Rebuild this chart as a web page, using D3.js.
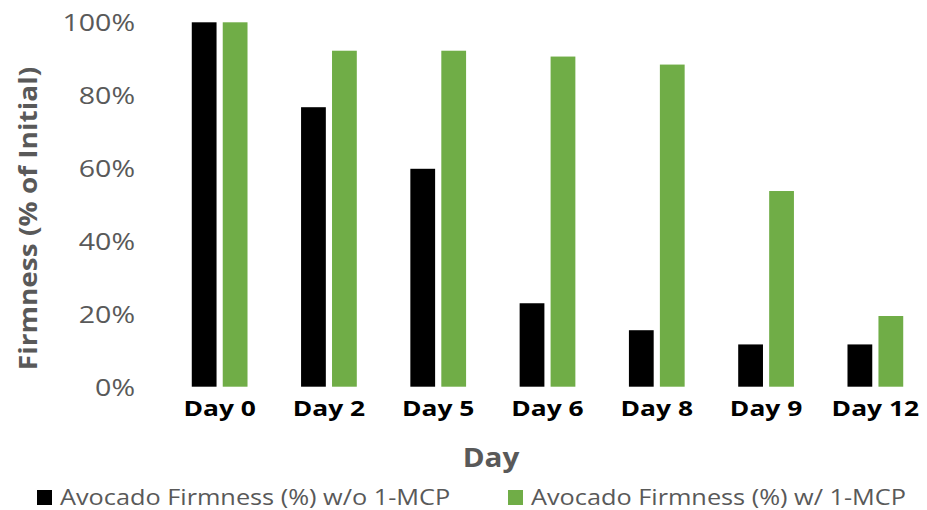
<!DOCTYPE html>
<html><head><meta charset="utf-8">
<script src="https://cdn.jsdelivr.net/npm/d3@7"></script>
<style>body{margin:0;background:#fff}svg{display:block}text{font-family:"Open Sans",sans-serif}</style>
</head><body><svg id="c" width="927" height="510"></svg>
<script>
const categories = ["Day 0","Day 2","Day 5","Day 6","Day 8","Day 9","Day 12"];
const seriesNames = ["Avocado Firmness (%) w/o 1-MCP","Avocado Firmness (%) w/ 1-MCP"];
const without1MCP = [100, 76.7, 59.8, 22.9, 15.5, 11.6, 11.6];
const with1MCP = [100, 92.2, 92.2, 90.6, 88.4, 53.7, 19.4];
const yTicks = [0, 20, 40, 60, 80, 100];
const colors = ["#000000", "#70AD47"];

const svg = d3.select("#c");
const x = d3.scaleBand().domain(categories).range([165, 930]).paddingInner(0).paddingOuter(0);
const y = d3.scaleLinear().domain([0, 100]).range([386.7, 22.3]);
const sub = d3.scaleBand().domain([0,1]).range([x.bandwidth()*0.245, x.bandwidth()*0.755]).paddingInner(0.2);

const series = [without1MCP, with1MCP];
series.forEach((vals, si) => {
  svg.append("g").selectAll("rect").data(vals).join("rect")
    .attr("x", (d,i) => x(categories[i]) + sub(si))
    .attr("y", d => y(d))
    .attr("width", sub.bandwidth())
    .attr("height", d => y(0) - y(d))
    .attr("fill", colors[si]);
});

function txt(g, s, px, py, opts) {
  return g.append("text").text(s)
    .attr("text-anchor", opts.anchor || "start")
    .attr("font-size", opts.size)
    .attr("font-weight", opts.weight || "normal")
    .attr("fill", opts.fill || "#595959")
    .attr("transform", `translate(${px},${py}) rotate(${opts.rot||0}) scale(${opts.sx||1.12},1)`);
}

// y axis
const yAxis = d3.axisLeft(y).tickValues(yTicks).tickFormat(d => d + "%").tickSize(0);
const ga = svg.append("g").attr("transform", "translate(135,0)").call(yAxis);
ga.select(".domain").remove();
ga.selectAll("text").attr("x", 0).attr("dy", "0.36em")
  .attr("font-size", 24).attr("fill", "#595959").attr("font-family", "Open Sans")
  .attr("transform", "scale(1.19,1)");

// x axis
const xAxis = d3.axisBottom(x).tickSize(0);
const gx = svg.append("g").attr("transform", "translate(0,386.7)").call(xAxis);
gx.select(".domain").remove();
gx.selectAll("text").attr("y", 29).attr("dy", null)
  .attr("font-size", 22).attr("font-weight", "bold").attr("fill", "#000").attr("font-family", "Open Sans")
  .attr("transform", "scale(1.2,1)");

// titles
txt(svg, "Day", 491, 467, {anchor:"middle", size:26, weight:"bold", sx:1.14});
txt(svg, "Firmness (% of Initial)", 37, 218.5, {anchor:"middle", size:25, weight:"bold", rot:-90, sx:1.12});

// legend
const lg = svg.append("g");
const legX = [37, 508];
seriesNames.forEach((n, i) => {
  lg.append("rect").attr("x", legX[i]).attr("y", 490).attr("width", 15).attr("height", 15).attr("fill", colors[i]);
  txt(lg, n, legX[i] + 23, 505, {size:22, sx:1.15});
});
</script></body></html>
